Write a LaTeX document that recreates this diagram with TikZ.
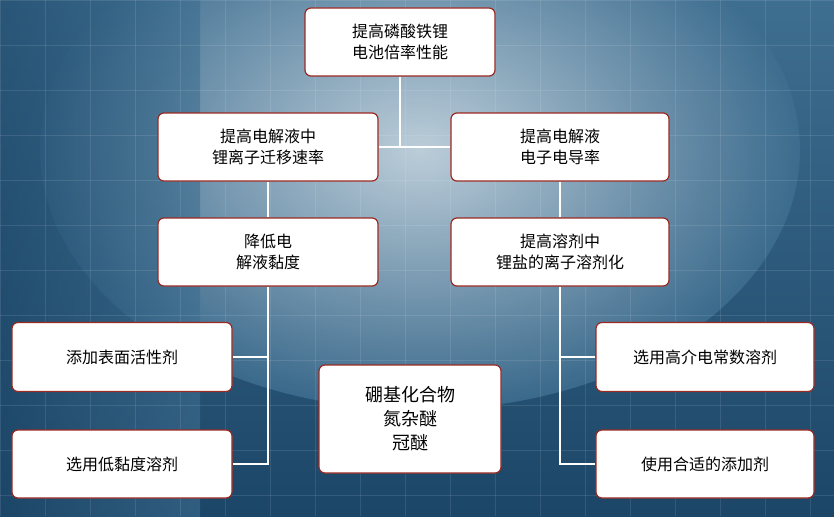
\documentclass[tikz,border=0pt]{standalone}
\usepackage{fontspec}
\setmainfont{Noto Sans CJK SC}
\definecolor{bgdark}{HTML}{1C4668}
\definecolor{bgmid}{HTML}{3E6E90}
\definecolor{bglight}{HTML}{D4E0E8}
\definecolor{bord}{HTML}{9A2A22}
\begin{document}
\begin{tikzpicture}[x=1pt,y=-1pt,
  box/.style={draw=bord,line width=1.2pt,fill=white,rounded corners=6pt,align=center,font=\fontsize{16}{21}\selectfont,inner sep=0pt},
  ln/.style={white,line width=1.5pt}]
\useasboundingbox (0,0) rectangle (834,516);
\shade[top color=bgmid,bottom color=bgdark] (0,0) rectangle (834,516);
\shade[inner color=bglight,outer color=bgmid,opacity=0.85] (420,150) ellipse (380 and 260);
\shade[left color=bgdark,right color=bgmid,opacity=0.6] (0,0) rectangle (200,516);
\foreach \x in {0,45,...,834} \draw[white,opacity=0.1] (\x,0)--(\x,516);
\foreach \y in {0,45,...,516} \draw[white,opacity=0.1] (0,\y)--(834,\y);
\node[box,minimum width=190,minimum height=68] (t) at (400,42) {提高磷酸铁锂\\电池倍率性能};
\node[box,minimum width=220,minimum height=68] (l1) at (268,147) {提高电解液中\\锂离子迁移速率};
\node[box,minimum width=218,minimum height=68] (r1) at (560,147) {提高电解液\\电子电导率};
\node[box,minimum width=220,minimum height=68] (l2) at (268,252) {降低电\\解液黏度};
\node[box,minimum width=218,minimum height=68] (r2) at (560,252) {提高溶剂中\\锂盐的离子溶剂化};
\node[box,minimum width=220,minimum height=69] (a1) at (122,357) {添加表面活性剂};
\node[box,minimum width=220,minimum height=68] (a2) at (122,464) {选用低黏度溶剂};
\node[box,minimum width=182,minimum height=108,font=\fontsize{18}{24}\selectfont] (c) at (410,419) {硼基化合物\\氮杂醚\\冠醚};
\node[box,minimum width=218,minimum height=69] (b1) at (705,357) {选用高介电常数溶剂};
\node[box,minimum width=218,minimum height=68] (b2) at (705,464) {使用合适的添加剂};
\coordinate (j) at (400,147);
\coordinate (lj) at (268,464);
\coordinate (rj) at (560,464);
\draw[ln] (t.south)--(j);
\draw[ln] (l1.east)--(r1.west);
\draw[ln] (l1)--(l2);
\draw[ln] (r1)--(r2);
\draw[ln] (l2.south)--(lj)--(a2.east);
\draw[ln] (a1.east)--(a1.east -| lj);
\draw[ln] (r2.south)--(rj)--(b2.west);
\draw[ln] (b1.west)--(b1.west -| rj);
\end{tikzpicture}
\end{document}
